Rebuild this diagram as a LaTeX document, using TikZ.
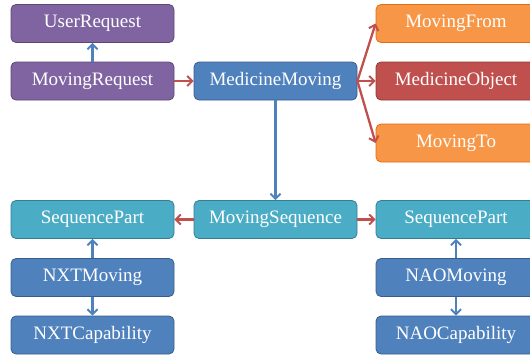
\documentclass[tikz,border=0pt]{standalone}
\usepackage{fontspec}
\setmainfont{Liberation Serif}
\usetikzlibrary{arrows.meta}
\definecolor{cpurple}{HTML}{8064A2}\definecolor{bpurple}{HTML}{5C4776}
\definecolor{cblue}{HTML}{4F81BD}\definecolor{bblue}{HTML}{385D8A}
\definecolor{corange}{HTML}{F79646}\definecolor{borange}{HTML}{E46C0A}
\definecolor{cred}{HTML}{C0504D}\definecolor{bred}{HTML}{8C3836}
\definecolor{cteal}{HTML}{4BACC6}\definecolor{bteal}{HTML}{357D91}
\tikzset{
  box/.style={rounded corners=5pt, minimum width=163pt, minimum height=38pt, inner sep=0pt,
    text=white, font=\fontsize{19}{22}\selectfont, line width=0.8pt},
  pbox/.style={box, fill=cpurple, draw=bpurple},
  bbox/.style={box, fill=cblue, draw=bblue},
  obox/.style={box, fill=corange, draw=borange},
  rbox/.style={box, fill=cred, draw=bred},
  tbox/.style={box, fill=cteal, draw=bteal},
  barr/.style={draw=cblue, line width=2.3pt, -{Straight Barb[length=5pt,width=10pt,line width=2pt]}},
  rarr/.style={draw=cred, line width=2.3pt, -{Straight Barb[length=5pt,width=10pt,line width=2pt]}},
}
\begin{document}
\begin{tikzpicture}[x=1pt,y=-1pt]
\useasboundingbox (0,0) rectangle (530,356);
\clip (0,0) rectangle (530,356);
\node[pbox] (ur) at (92.5,23.5) {UserRequest};
\node[pbox] (mr) at (92.5,81) {MovingRequest};
\node[bbox] (mm) at (275.5,81) {MedicineMoving};
\node[obox, minimum width=160pt] (mf) at (456,23.5) {MovingFrom};
\node[rbox, minimum width=160pt] (mo) at (456,81) {MedicineObject};
\node[obox, minimum width=160pt] (mt) at (456,143) {MovingTo};
\node[tbox] (ms) at (275.5,219.5) {MovingSequence};
\node[tbox] (spl) at (92.5,219.5) {SequencePart};
\node[tbox, minimum width=160pt] (spr) at (456,219.5) {SequencePart};
\node[bbox] (nxm) at (92.5,277.5) {NXTMoving};
\node[bbox] (nxc) at (92.5,335) {NXTCapability};
\node[bbox, minimum width=160pt] (nam) at (456,277.5) {NAOMoving};
\node[bbox, minimum width=160pt] (nac) at (456,335) {NAOCapability};
\draw[barr] (mr) -- (ur);
\draw[rarr] (mr) -- (mm);
\draw[rarr] (mm.east) -- (mf.west);
\draw[rarr] (mm.east) -- (mo.west);
\draw[rarr] (mm.east) -- (mt.west);
\draw[barr] (mm) -- (ms);
\draw[rarr] (ms) -- (spl);
\draw[rarr] (ms) -- (spr);
\draw[barr] (nxm) -- (spl);
\draw[barr] (nxm) -- (nxc);
\draw[barr] (nam) -- (spr);
\draw[barr] (nam) -- (nac);
\end{tikzpicture}
\end{document}
